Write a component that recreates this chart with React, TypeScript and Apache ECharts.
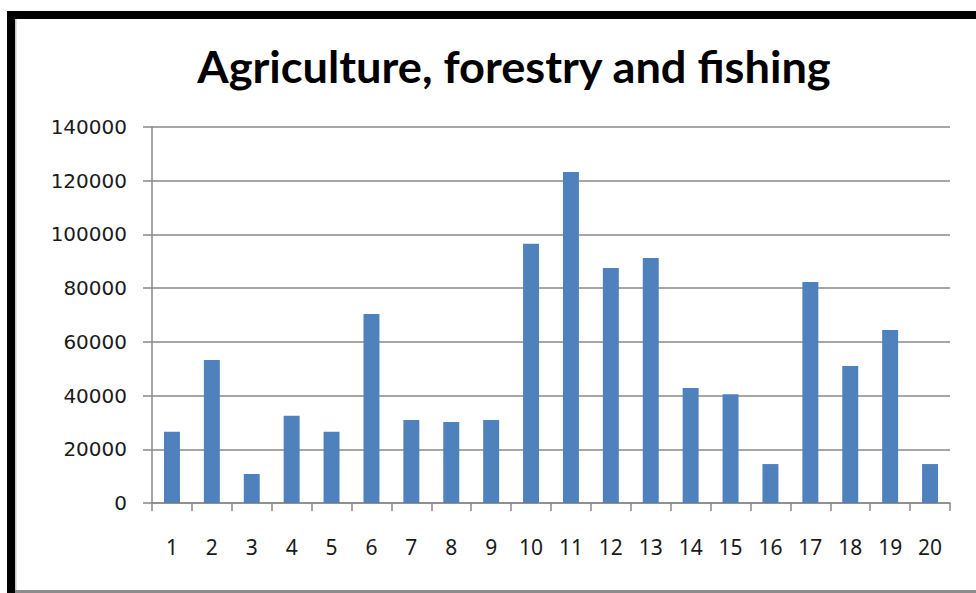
import React, { useEffect, useRef } from "react";
import * as echarts from "echarts";

const TITLE = "Agriculture, forestry and fishing";
const CATEGORIES = ["1", "2", "3", "4", "5", "6", "7", "8", "9", "10", "11", "12", "13", "14", "15", "16", "17", "18", "19", "20"];
const VALUES = [26500, 53200, 10800, 32500, 26500, 70400, 30900, 30200, 30900, 96500, 123200, 87500, 91200, 42800, 40500, 14500, 82300, 51000, 64400, 14500];
const Y_MIN = 0;
const Y_MAX = 140000;
const Y_STEP = 20000;

const W = 976;
const H = 593;

function measure(text: string, font: string): number {
  const c = document.createElement("canvas");
  const ctx = c.getContext("2d");
  if (!ctx) return 0;
  ctx.font = font;
  return ctx.measureText(text).width;
}

export default function App() {
  const ref = useRef<HTMLDivElement>(null);
  useEffect(() => {
    if (!ref.current) return;
    const chart = echarts.init(ref.current, null, { renderer: "svg", width: W, height: H });
    const titleFont = "bold 44px Lato";
    const natural = measure(TITLE, titleFont) || 740;
    const sx = 635 / natural;
    const grey = "#898989";
    chart.setOption({
      animation: false,
      backgroundColor: "#ffffff",
      grid: { left: 152, right: 26, top: 127, bottom: 90, containLabel: false },
      xAxis: {
        type: "category",
        data: CATEGORIES,
        boundaryGap: true,
        axisLine: { show: true, lineStyle: { color: grey, width: 1.5 } },
        axisTick: { show: true, alignWithLabel: false, length: 8, lineStyle: { color: grey, width: 1.5 } },
        axisLabel: { margin: 33, color: "#1a1a1a", fontFamily: "Noto Sans", fontSize: 21, interval: 0 },
        splitLine: { show: false },
      },
      yAxis: {
        type: "value",
        min: Y_MIN,
        max: Y_MAX,
        interval: Y_STEP,
        axisLine: { show: true, lineStyle: { color: grey, width: 1.5 } },
        axisTick: { show: true, length: 9, lineStyle: { color: grey, width: 1.5 } },
        axisLabel: {
          margin: 25,
          color: "#1a1a1a",
          fontFamily: "DejaVu Sans",
          fontSize: 20,
          formatter: (v: number) => String(v),
        },
        splitLine: { show: true, lineStyle: { color: grey, width: 1.5 } },
      },
      series: [
        {
          type: "bar",
          data: VALUES,
          barWidth: "40%",
          itemStyle: { color: "#4F81BD" },
        },
      ],
      graphic: [
        {
          type: "text",
          x: 514,
          y: 66,
          scaleX: sx,
          scaleY: 1,
          style: {
            text: TITLE,
            font: titleFont,
            fill: "#000000",
            textAlign: "center",
            textVerticalAlign: "middle",
          },
        },
        { type: "rect", shape: { x: 7, y: 11, width: W - 7, height: 8 }, style: { fill: "#000000" }, z: 100 },
        { type: "rect", shape: { x: 7, y: 11, width: 8, height: H - 11 }, style: { fill: "#000000" }, z: 100 },
        { type: "rect", shape: { x: 15, y: 19, width: 1.5, height: H - 19 }, style: { fill: "#c8c8c8" }, z: 100 },
        { type: "rect", shape: { x: 15, y: 590, width: W - 15, height: 3 }, style: { fill: "#8c8c8c" }, z: 100 },
      ],
    });
    return () => chart.dispose();
  }, []);
  return (
    <div
      ref={ref}
      style={{ position: "fixed", left: 0, top: 0, width: W, height: H, background: "#fff" }}
    />
  );
}
